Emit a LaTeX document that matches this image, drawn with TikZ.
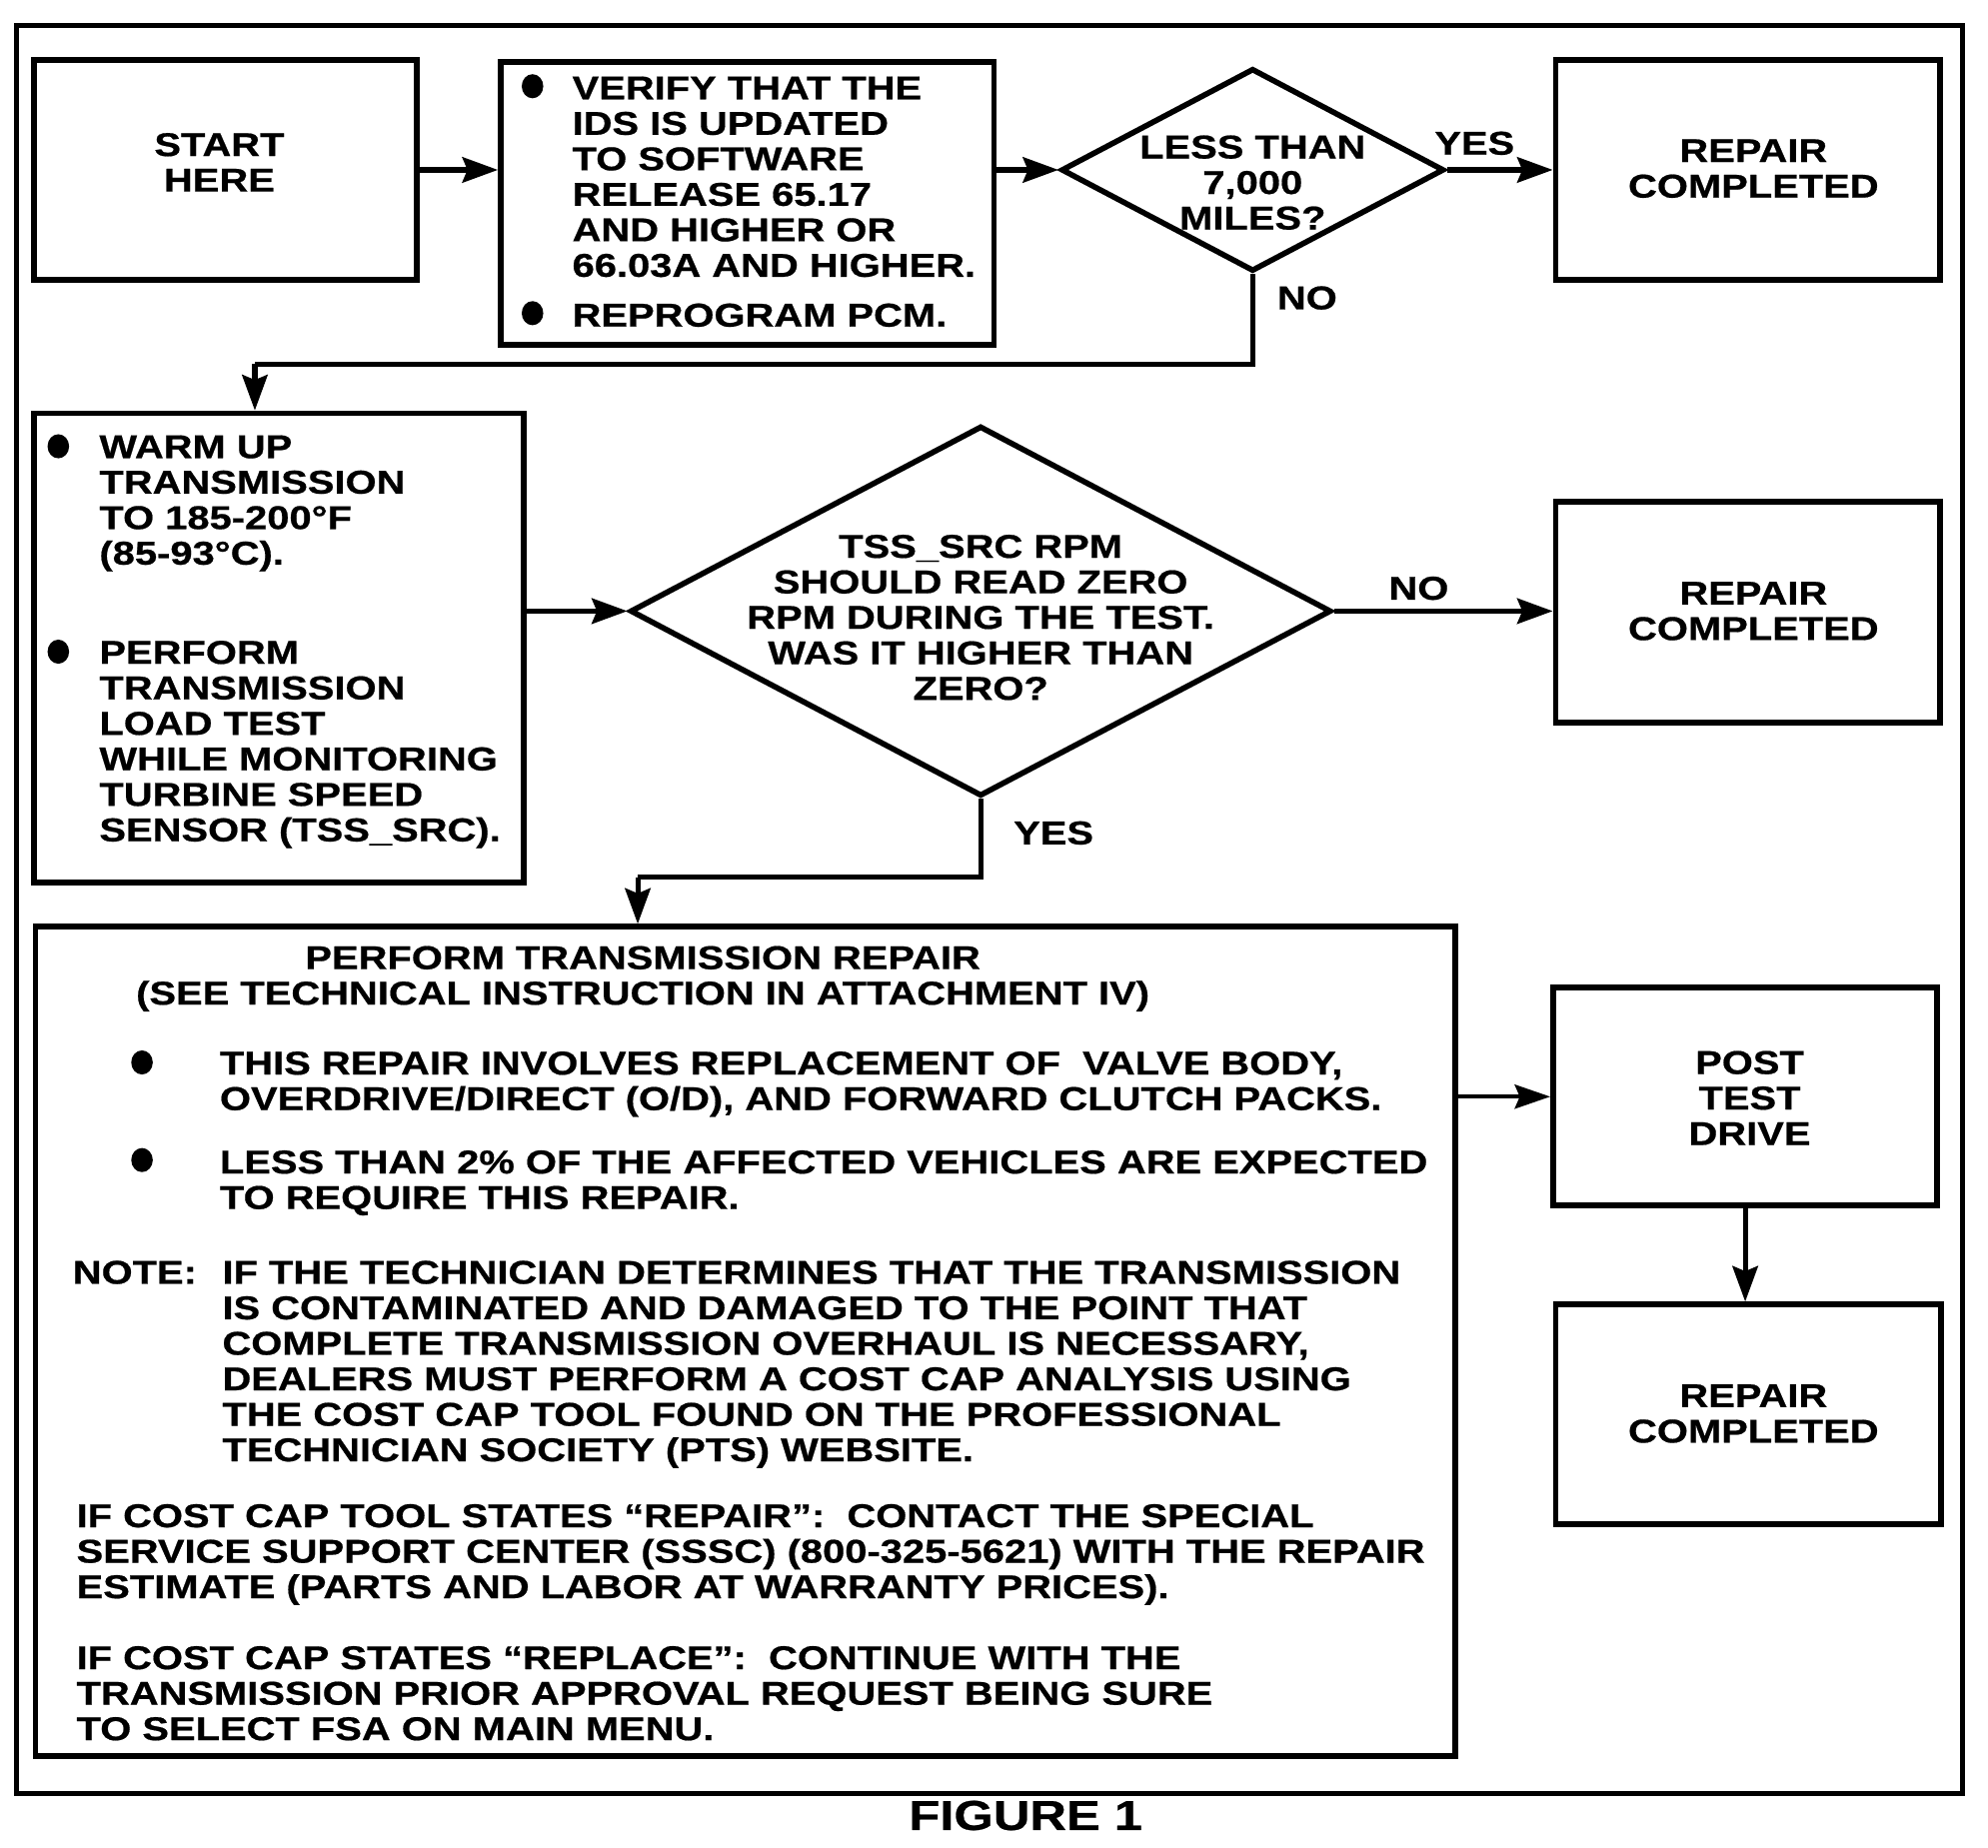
\documentclass[tikz,border=0pt]{standalone}
\usepackage{fontspec}
\usetikzlibrary{shapes.geometric,arrows.meta}
\newfontfamily\hbx[FakeStretch=1.21,FakeBold=0.6]{Liberation Sans}
\newcommand\mainf{\hbx\bfseries\fontsize{13}{14}\selectfont}
\tikzset{
  box/.style={draw, line width=2.3pt, rectangle, inner sep=0pt},
  dia/.style={draw, line width=2.2pt, diamond, inner sep=0pt},
  conn/.style={line width=2pt, -{Stealth[length=14pt,width=10pt,inset=2pt]}},
  thinconn/.style={line width=1.4pt, -{Stealth[length=14pt,width=9.5pt,inset=2pt]}},
  lbl/.style={inner sep=0pt, font=\mainf},
  txt/.style={inner sep=0pt, font=\mainf, align=left, anchor=north west},
  ctxt/.style={inner sep=0pt, font=\mainf, align=center},
  bul/.style={fill, ellipse, inner sep=0pt, minimum width=8.5pt, minimum height=9.5pt}
}
\begin{document}
\begin{tikzpicture}[x=0.5pt,y=-0.5pt]
\useasboundingbox (0,0) rectangle (1568,1457);
\fill[white] (0,0) rectangle (1568,1457);
% outer frame
\node[draw, line width=2pt, inner sep=0pt, minimum width=767.5pt, minimum height=697.5pt] (frame) at (780.5,717.5) {};
\node[inner sep=0pt, font=\hbx\bfseries\fontsize{16.5}{18}\selectfont] (fig) at (809,1432) {FIGURE 1};

% top row
\node[box, minimum width=151pt, minimum height=87pt] (start) at (178,134) {};
\node[ctxt] (startt) at (173,128) {START\\HERE};
\node[box, minimum width=194.5pt, minimum height=111.5pt] (verify) at (589.5,160.5) {};
\node[bul] (vb1) at (420,68) {};
\node[bul] (vb2) at (420,247) {};
\node[txt] (vt1) at (451,60) {VERIFY THAT THE\\IDS IS UPDATED\\TO SOFTWARE\\RELEASE 65.17\\AND HIGHER OR\\66.03A AND HIGHER.};
\node[txt] (vt2) at (451,239) {REPROGRAM PCM.};
\node[dia, minimum width=151pt, minimum height=80pt] (d1) at (988,134) {};
\node[ctxt] (d1t) at (988,144) {LESS THAN\\7,000\\MILES?};
\node[box, minimum width=151.5pt, minimum height=87pt] (rep1) at (1378.5,134) {};
\node[ctxt] (rep1t) at (1383,133) {REPAIR\\COMPLETED};
\node[lbl] (yes1) at (1163,113) {YES};
\node[lbl] (no1) at (1031,235) {NO};

% middle row
\node[box, minimum width=193pt, minimum height=185pt] (warm) at (220,511) {};
\node[bul] (wb1) at (46,352) {};
\node[bul] (wb2) at (46,514) {};
\node[txt] (wt1) at (78,343) {WARM UP\\TRANSMISSION\\TO 185-200°F\\(85-93°C).};
\node[txt] (wt2) at (78,505) {PERFORM\\TRANSMISSION\\LOAD TEST\\WHILE MONITORING\\TURBINE SPEED\\SENSOR (TSS\_SRC).};
\node[dia, minimum width=276.5pt, minimum height=146pt] (d2) at (773.5,482) {};
\node[ctxt] (d2t) at (773.5,487) {TSS\_SRC RPM\\SHOULD READ ZERO\\RPM DURING THE TEST.\\WAS IT HIGHER THAN\\ZERO?};
\node[box, minimum width=151.5pt, minimum height=87pt] (rep2) at (1378.5,483) {};
\node[ctxt] (rep2t) at (1383,482) {REPAIR\\COMPLETED};
\node[lbl] (no2) at (1119,464) {NO};
\node[lbl] (yes2) at (831,657) {YES};

% bottom
\node[box, minimum width=560pt, minimum height=327pt] (repair) at (588,1058) {};
\node[ctxt] (rt0) at (507,772) {PERFORM TRANSMISSION REPAIR\\(SEE TECHNICAL INSTRUCTION IN ATTACHMENT IV)};
\node[bul] (rb1) at (112,838) {};
\node[bul] (rb2) at (112,915) {};
\node[txt] (rt1) at (173,829) {THIS REPAIR INVOLVES REPLACEMENT OF \ VALVE BODY,\\OVERDRIVE/DIRECT (O/D), AND FORWARD CLUTCH PACKS.};
\node[txt] (rt2) at (173,907) {LESS THAN 2\% OF THE AFFECTED VEHICLES ARE EXPECTED\\TO REQUIRE THIS REPAIR.};
\node[txt] (rt3) at (57,994) {NOTE:};
\node[txt] (rt4) at (175,994) {IF THE TECHNICIAN DETERMINES THAT THE TRANSMISSION\\IS CONTAMINATED AND DAMAGED TO THE POINT THAT\\COMPLETE TRANSMISSION OVERHAUL IS NECESSARY,\\DEALERS MUST PERFORM A COST CAP ANALYSIS USING\\THE COST CAP TOOL FOUND ON THE PROFESSIONAL\\TECHNICIAN SOCIETY (PTS) WEBSITE.};
\node[txt] (rt5) at (60,1186) {IF COST CAP TOOL STATES “REPAIR”: \ CONTACT THE SPECIAL\\SERVICE SUPPORT CENTER (SSSC) (800-325-5621) WITH THE REPAIR\\ESTIMATE (PARTS AND LABOR AT WARRANTY PRICES).};
\node[txt] (rt6) at (60,1298) {IF COST CAP STATES “REPLACE”: \ CONTINUE WITH THE\\TRANSMISSION PRIOR APPROVAL REQUEST BEING SURE\\TO SELECT FSA ON MAIN MENU.};
\node[box, minimum width=151.5pt, minimum height=86pt] (post) at (1376.5,865) {};
\node[ctxt] (postt) at (1380,866) {POST\\TEST\\DRIVE};
\node[box, minimum width=152pt, minimum height=86.5pt] (rep3) at (1379,1115.5) {};
\node[ctxt] (rep3t) at (1383,1115) {REPAIR\\COMPLETED};

% connectors
\coordinate (j1) at (201,287);
\coordinate (j2) at (503,692);
\draw[conn] (start.east) -- (start.east -| verify.west);
\draw[conn] (d1.west -| verify.east) -- (d1.west);
\draw[conn] (d1.east) -- (d1.east -| rep1.west);
\draw[line width=2pt] (d1.south) |- (j1);
\draw[conn] (j1) -- (j1 |- warm.north);
\draw[conn] (d2.west -| warm.east) -- (d2.west);
\draw[conn] (d2.east) -- (d2.east -| rep2.west);
\draw[line width=2pt] (d2.south) |- (j2);
\draw[conn] (j2) -- (j2 |- repair.north);
\draw[thinconn] (post.west -| repair.east) -- (post.west);
\draw[conn] (post.south) -- (post.south |- rep3.north);
\end{tikzpicture}
\end{document}
